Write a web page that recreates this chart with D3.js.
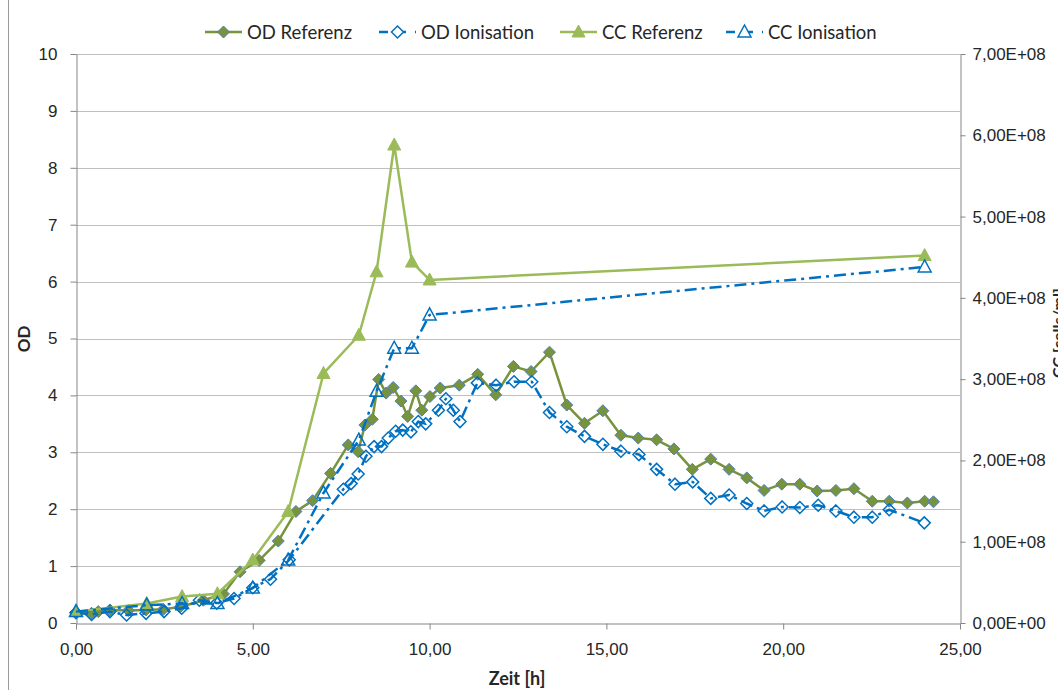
<!DOCTYPE html>
<html>
<head>
<meta charset="utf-8">
<script src="https://cdn.jsdelivr.net/npm/d3@7"></script>
<style>
  body { margin: 0; background: #fff; }
  svg { display: block; font-family: Lato, "Liberation Sans", sans-serif; }
</style>
</head>
<body>
<svg id="chart" width="1058" height="690"></svg>
<script>
// OD series (left axis)
const odRefTime = [0, 0.44, 0.63, 0.96, 1.48, 1.98, 2.47, 2.94, 3.6, 4.17,
  4.64, 5.18, 5.72, 6.22, 6.69, 7.2, 7.7, 7.98, 8.17, 8.38,
  8.56, 8.77, 8.97, 9.19, 9.38, 9.61, 9.78, 10.01, 10.3, 10.84,
  11.36, 11.87, 12.37, 12.87, 13.39, 13.88, 14.38, 14.9, 15.41, 15.9,
  16.42, 16.91, 17.43, 17.95, 18.47, 18.97, 19.46, 19.96, 20.47, 20.96,
  21.49, 22.0, 22.52, 23.0, 23.51, 24.0, 24.25];
const odRef = [0.19, 0.17, 0.20, 0.23, 0.22, 0.23, 0.24, 0.28, 0.40, 0.51,
  0.90, 1.10, 1.44, 1.96, 2.15, 2.63, 3.13, 3.01, 3.48, 3.58,
  4.28, 4.04, 4.14, 3.90, 3.63, 4.08, 3.74, 3.98, 4.13, 4.18,
  4.37, 4.01, 4.51, 4.42, 4.76, 3.83, 3.51, 3.73, 3.30, 3.25,
  3.22, 3.06, 2.70, 2.88, 2.70, 2.55, 2.33, 2.44, 2.44, 2.32,
  2.33, 2.36, 2.14, 2.14, 2.11, 2.14, 2.13];

const odIonTime = [0, 0.44, 0.96, 1.43, 1.98, 2.49, 2.99, 3.49, 3.98, 4.47,
  5.0, 5.5, 6.03, 7.56, 7.78, 7.98, 8.2, 8.43, 8.64, 8.83,
  9.04, 9.24, 9.47, 9.68, 9.89, 10.25, 10.46, 10.67, 10.86, 11.35,
  11.88, 12.39, 12.89, 13.39, 13.88, 14.38, 14.9, 15.41, 15.92, 16.42,
  16.94, 17.44, 17.95, 18.47, 18.97, 19.46, 19.97, 20.47, 20.99, 21.49,
  22.0, 22.52, 23.0, 23.99];
const odIon = [0.18, 0.15, 0.20, 0.14, 0.17, 0.20, 0.26, 0.40, 0.35, 0.43,
  0.62, 0.77, 1.11, 2.35, 2.45, 2.62, 2.93, 3.10, 3.10, 3.25,
  3.37, 3.39, 3.36, 3.54, 3.50, 3.74, 3.94, 3.74, 3.54, 4.22,
  4.18, 4.24, 4.24, 3.70, 3.45, 3.28, 3.14, 3.02, 2.96, 2.70,
  2.44, 2.48, 2.19, 2.25, 2.10, 1.97, 2.04, 2.03, 2.07, 1.97,
  1.86, 1.86, 1.99, 1.76];

// CC series (right axis, cells/ml)
const ccTime = [0, 2, 3, 4, 5, 6, 7, 8, 8.5, 9, 9.5, 10, 24];
const ccRef = [1.4e7, 2.4e7, 3.25e7, 3.6e7, 7.75e7, 1.37e8, 3.07e8, 3.54e8, 4.32e8, 5.88e8, 4.44e8, 4.22e8, 4.52e8];
const ccIon = [1.4e7, 2.2e7, 2.4e7, 2.4e7, 4.3e7, 7.75e7, 1.6e8, 2.25e8, 2.85e8, 3.38e8, 3.38e8, 3.79e8, 4.38e8];

const seriesNames = ["OD Referenz", "OD Ionisation", "CC Referenz", "CC Ionisation"];
const xTicks = [0, 5, 10, 15, 20, 25];
const yTicks = d3.range(0, 11);
const y2Ticks = d3.range(0, 8e8, 1e8);

const svg = d3.select("#chart");
const plot = { left: 76, right: 960, top: 54, bottom: 623 };

const x = d3.scaleLinear().domain([0, 25]).range([plot.left, plot.right]);
const y = d3.scaleLinear().domain([0, 10]).range([plot.bottom, plot.top]);
const y2 = d3.scaleLinear().domain([0, 7e8]).range([plot.bottom, plot.top]);

const axisColor = "#868686";
const gridColor = "#bfbfbf";
const textColor = "#262626";

// outer chart border (only left edge falls inside the picture)
svg.append("line").attr("x1", 8.5).attr("x2", 8.5).attr("y1", 0).attr("y2", 690)
  .attr("stroke", "#9a9a9a").attr("stroke-width", 1);

// gridlines
svg.append("g").selectAll("line").data(yTicks.filter(d => d > 0)).join("line")
  .attr("x1", plot.left).attr("x2", plot.right)
  .attr("y1", d => Math.round(y(d)) + 0.5).attr("y2", d => Math.round(y(d)) + 0.5)
  .attr("stroke", gridColor).attr("stroke-width", 1);

// axes
function styleAxis(g) {
  g.select(".domain").attr("stroke", axisColor);
  g.selectAll(".tick line").attr("stroke", axisColor);
  g.selectAll(".tick text").attr("fill", textColor).style("font-size", "17px");
}

svg.append("g")
  .attr("transform", `translate(0,${plot.bottom + 0.5})`)
  .call(d3.axisBottom(x).tickValues(xTicks).tickSize(6).tickSizeOuter(0)
    .tickFormat(d => d3.format(".2f")(d).replace(".", ",")))
  .call(styleAxis)
  .call(g => g.selectAll(".tick text").attr("y", 14).attr("dy", "1em"));

svg.append("g")
  .attr("transform", `translate(${plot.left + 0.5},0)`)
  .call(d3.axisLeft(y).tickValues(yTicks).tickSize(6).tickSizeOuter(0).tickFormat(d3.format("d")))
  .call(styleAxis)
  .call(g => g.selectAll(".tick text").attr("x", -19));

svg.append("g")
  .attr("transform", `translate(${plot.right + 0.5},0)`)
  .call(d3.axisRight(y2).tickValues(y2Ticks).tickSize(5).tickSizeOuter(0)
    .tickFormat(d => (d / 1e8).toFixed(2).replace(".", ",") + (d === 0 ? "E+00" : "E+08")))
  .call(styleAxis)
  .call(g => g.selectAll(".tick text").attr("x", 12));

// axis titles
svg.append("text").attr("x", 517).attr("y", 685).attr("text-anchor", "middle")
  .attr("font-weight", "bold").attr("font-size", 18).attr("fill", textColor).text("Zeit [h]");
svg.append("text").attr("transform", "translate(30,339) rotate(-90)").attr("text-anchor", "middle")
  .attr("font-weight", "bold").attr("font-size", 17).attr("fill", textColor).text("OD");
svg.append("text").attr("transform", "translate(1064,333) rotate(-90)").attr("text-anchor", "middle")
  .attr("font-weight", "bold").attr("font-size", 16).attr("fill", textColor).text("CC [cells/ml]");

// markers
const diamond = "M0,-6L6,0L0,6L-6,0Z";
const triangle = "M0,-7L6.5,5L-6.5,5Z";

const styles = {
  "OD Referenz":   { line: "#77933c", dash: null, shape: diamond, fill: "#77933c", stroke: "#4f81bd", sw: 1 },
  "OD Ionisation": { line: "#0070c0", dash: "12 5 3 5", shape: diamond, fill: "none", stroke: "#0070c0", sw: 1.5 },
  "CC Referenz":   { line: "#9bbb59", dash: null, shape: triangle, fill: "#9bbb59", stroke: "#9bbb59", sw: 1 },
  "CC Ionisation": { line: "#0070c0", dash: "12 5 3 5", shape: triangle, fill: "none", stroke: "#0070c0", sw: 1.5 }
};

const data = [
  { name: "OD Referenz", pts: odRefTime.map((t, i) => [x(t), y(odRef[i])]) },
  { name: "OD Ionisation", pts: odIonTime.map((t, i) => [x(t), y(odIon[i])]) },
  { name: "CC Referenz", pts: ccTime.map((t, i) => [x(t), y2(ccRef[i])]) },
  { name: "CC Ionisation", pts: ccTime.map((t, i) => [x(t), y2(ccIon[i])]) }
];

const line = d3.line();
data.forEach(s => {
  const st = styles[s.name];
  const g = svg.append("g");
  g.append("path").attr("d", line(s.pts)).attr("fill", "none")
    .attr("stroke", st.line).attr("stroke-width", 2.5)
    .attr("stroke-dasharray", st.dash).attr("stroke-linejoin", "round");
  g.selectAll("path.m").data(s.pts).join("path").attr("class", "m")
    .attr("transform", d => `translate(${d[0]},${d[1]})`)
    .attr("d", st.shape).attr("fill", st.fill)
    .attr("stroke", st.stroke).attr("stroke-width", st.sw);
});

// legend: text start positions, line drawn just left of each text
const legendTextX = [247, 421, 602, 768];
const legendY = 32;
seriesNames.forEach((name, i) => {
  const st = styles[name];
  const g = svg.append("g").attr("transform", `translate(${legendTextX[i] - 42},${legendY})`);
  g.append("line").attr("x1", 0).attr("x2", 37).attr("y1", 0).attr("y2", 0)
    .attr("stroke", st.line).attr("stroke-width", 2.5)
    .attr("stroke-dasharray", st.dash ? "9 9 9" : null);
  g.append("path").attr("transform", "translate(18.5,0)").attr("d", st.shape)
    .attr("fill", st.fill === "none" ? "#fff" : st.fill)
    .attr("stroke", st.stroke).attr("stroke-width", st.sw);
  g.append("text").attr("x", 42).attr("y", 6.5).attr("font-size", 18.5)
    .attr("fill", textColor).text(name);
});
</script>
</body>
</html>
